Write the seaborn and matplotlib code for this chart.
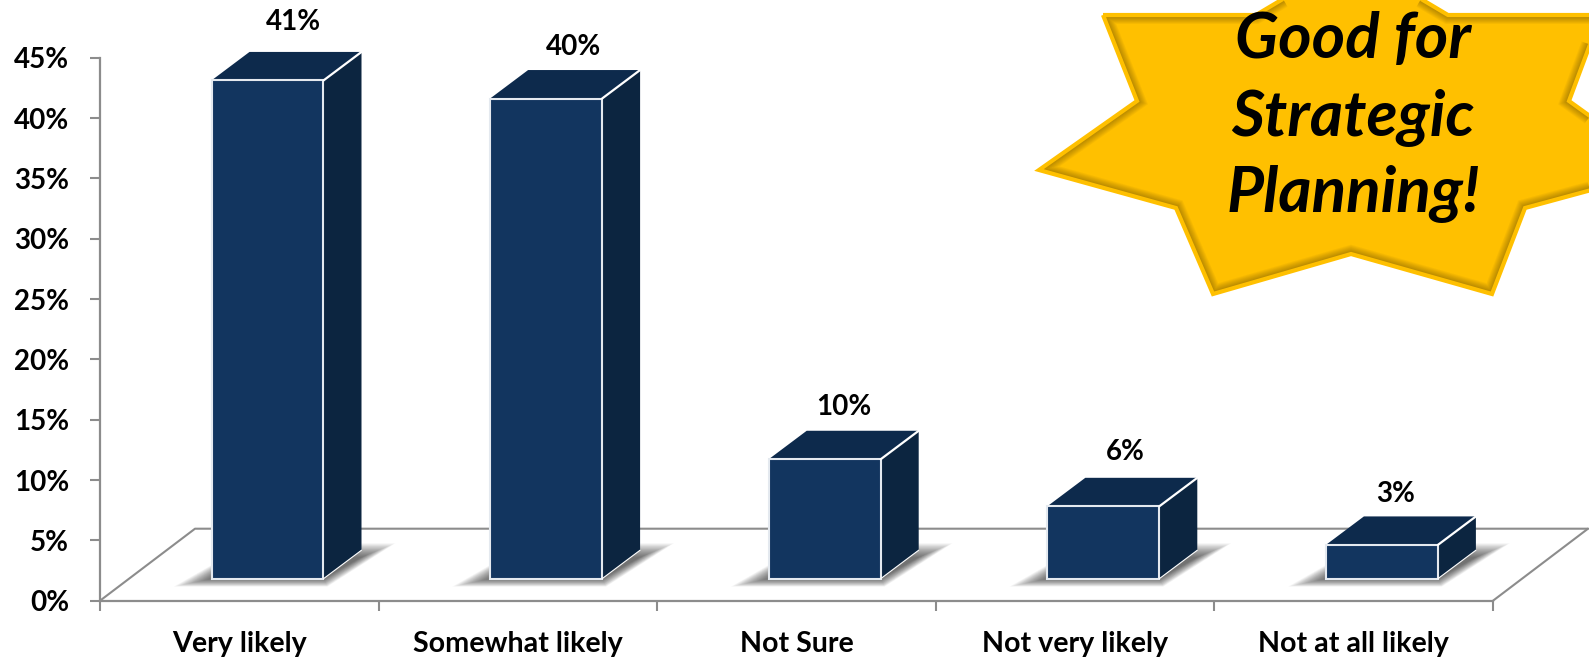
import matplotlib
matplotlib.use("Agg")
import matplotlib.pyplot as plt
import seaborn as sns
from matplotlib.patches import Polygon
from matplotlib.lines import Line2D
from matplotlib.transforms import IdentityTransform

categories = ["Very likely", "Somewhat likely", "Not Sure", "Not very likely", "Not at all likely"]
shares = [41.3, 39.8, 9.9, 6.0, 2.8]
y_ticks = [0, 5, 10, 15, 20, 25, 30, 35, 40, 45]
callout_lines = ["Good for", "Strategic", "Planning!"]

W, H = 1589, 658
FRONT = "#12355F"; SIDE = "#0C2540"; TOP = "#0D2A4C"; EDGE = "#E4E9EF"
AXIS = "#8C8C8C"; GOLD = "#FFC000"
bar_dx, bar_dy = 28.2, 22.0       # front plane offset from the axis plane, px
depth_dx, depth_dy = 38.0, 28.5   # bar depth, px
floor_dx, floor_dy = 95.0, 72.0   # floor depth, px
label_dx = [26, 27, 19, 22, 14]
label_dy = [30, 23, 24, 26, 22]

sns.set_style("white")
plt.rcParams["font.family"] = ["Lato", "DejaVu Sans"]
plt.rcParams["font.weight"] = "bold"
plt.rcParams["text.color"] = "black"

fig = plt.figure(figsize=(W / 100, H / 100), dpi=100)
ax = fig.add_axes([100 / W, (H - 600.7) / H, 1393 / W, 542.9 / H])
sns.barplot(x=categories, y=shares, color=FRONT, saturation=1, width=0.402, ax=ax, zorder=3)
ax.set_xlim(-0.5, 4.5)
ax.set_ylim(0, 45)
ax.set_yticks(y_ticks, [f"{t}%" for t in y_ticks])
ax.set_xticks([i - 0.5 for i in range(len(categories) + 1)], [""] * (len(categories) + 1))
ax.set_xticks(list(range(len(categories))), categories, minor=True)
ax.tick_params(axis="y", which="major", left=True, length=7.2, width=1.5, color=AXIS, pad=15,
               labelsize=20, labelcolor="black")
ax.tick_params(axis="x", which="major", bottom=True, length=7.2, width=1.5, color=AXIS)
ax.tick_params(axis="x", which="minor", bottom=False, length=0, pad=22, labelsize=20.6, labelcolor="black")
for s in ("top", "right"):
    ax.spines[s].set_visible(False)
for s in ("left", "bottom"):
    ax.spines[s].set_color(AXIS)
    ax.spines[s].set_linewidth(1.6)
ax.set_xlabel(""); ax.set_ylabel("")
ax.patch.set_alpha(0)

ident = IdentityTransform()

def add_poly(pts, **kw):
    p = Polygon(pts, closed=True, transform=ident, clip_on=False, **kw)
    ax.add_artist(p)
    return p

# floor
x0, y0 = ax.transData.transform((-0.5, 0))
x1, _ = ax.transData.transform((4.5, 0))
for xs, ys in (([x0, x0 + floor_dx, x1 + floor_dx], [y0, y0 + floor_dy, y0 + floor_dy]),
               ([x1, x1 + floor_dx], [y0, y0 + floor_dy])):
    ax.add_artist(Line2D(xs, ys, color=AXIS, lw=1.5, transform=ident, clip_on=False, zorder=1))

# bars
for i, (bar, v) in enumerate(zip(ax.patches, shares)):
    (xl, yb), (xr, yt) = ax.transData.transform(
        [(bar.get_x(), 0), (bar.get_x() + bar.get_width(), v)])
    xl, xr = xl + bar_dx, xr + bar_dx
    yb, yt = yb + bar_dy, yt + bar_dy
    # soft shadow on the floor
    n = 26
    for k in range(n):
        f = k / (n - 1)
        add_poly([(xl - 38 + 38 * f, yb - 8 + 8 * f), (xr + 4 - 4 * f, yb - 8 + 8 * f),
                  (xr + depth_dx + 34 - 34 * f, yb + depth_dy + 7 - 14 * f),
                  (xl + depth_dx - 8 * f, yb + depth_dy + 7 - 14 * f)],
                 facecolor="black", edgecolor="none", alpha=0.027, zorder=2)
    bar.set_transform(ident)
    bar.set_xy((xl, yb))
    bar.set_width(xr - xl)
    bar.set_height(yt - yb)
    bar.set_clip_on(False)
    bar.set_edgecolor(EDGE)
    bar.set_linewidth(1.5)
    add_poly([(xl, yt), (xr, yt), (xr + depth_dx, yt + depth_dy), (xl + depth_dx, yt + depth_dy)],
             facecolor=TOP, edgecolor="none", zorder=2.9)
    add_poly([(xr, yb), (xr, yt), (xr + depth_dx, yt + depth_dy), (xr + depth_dx, yb + depth_dy)],
             facecolor=SIDE, edgecolor="none", zorder=2.9)
    ax.add_artist(Line2D([xr, xr + depth_dx], [yt, yt + depth_dy], color="white", lw=1.6,
                         transform=ident, clip_on=False, zorder=3.5))
    ax.add_artist(Line2D([xr, xr + depth_dx], [yb, yb + depth_dy], color="white", lw=0.8,
                         transform=ident, clip_on=False, zorder=3.5))
    ax.annotate(f"{round(v)}%", xy=((xl + xr) / 2 + label_dx[i], yt + depth_dy + label_dy[i]),
                xycoords=ident, ha="center", va="center", fontsize=20, fontweight="bold",
                color="black", annotation_clip=False, zorder=5)

# callout star, on an overlay in pixel coordinates
ov = fig.add_axes([0, 0, 1, 1])
ov.set_xlim(0, W); ov.set_ylim(H, 0); ov.axis("off"); ov.patch.set_alpha(0)
star = [(1103, 15), (1256, 15), (1352, -42), (1448, 15), (1601, 15), (1569, 101), (1665, 170),
        (1525, 208), (1492, 294), (1351, 254), (1213, 294), (1176, 208), (1039, 170), (1137, 101)]
body = Polygon(star, closed=True, facecolor=GOLD, edgecolor="none", zorder=1, clip_on=False)
ov.add_patch(body)
for k in range(1, 11):
    line = Polygon(star, closed=True, facecolor="none", edgecolor="black", lw=1.3 * k, alpha=0.035, zorder=2)
    ov.add_patch(line)
    line.set_clip_path(body)
ov.add_patch(Polygon(star, closed=True, facecolor="none", edgecolor=GOLD, lw=3.0, joinstyle="miter", zorder=3))
for text, base in zip(callout_lines, (58, 136, 212)):
    ov.text(1353, base, text, ha="center", va="baseline", fontsize=46, fontweight="bold",
            fontstyle="italic", color="black", zorder=4)

fig.savefig("out.png", dpi=100)
